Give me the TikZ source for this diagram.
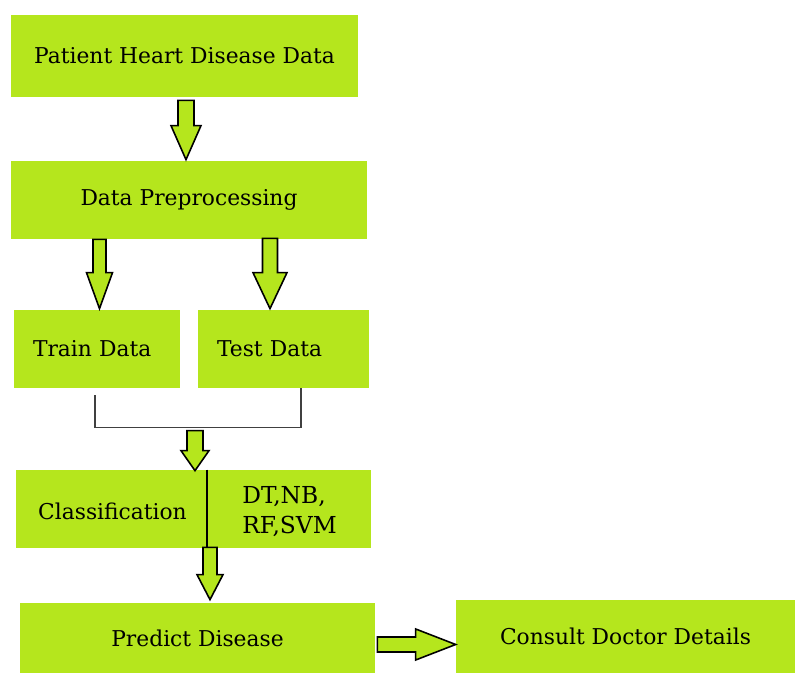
\documentclass[tikz,border=0pt]{standalone}
\usepackage{fontspec}
\setmainfont{DejaVu Serif}
\usetikzlibrary{calc}
\definecolor{limegreen}{RGB}{181,230,29}

\begin{document}
\begin{tikzpicture}[x=0.02cm, y=-0.02cm,
    every node/.style={font=\fontsize{12.4}{17}\selectfont},
    box/.style 2 args={fill=limegreen, inner sep=0pt, minimum width=#1cm, minimum height=#2cm},
    ba/.style={shift={(\p1)}, rotate=\n1},
    blockarrow/.style n args={3}{draw=black, fill=limegreen, line width=0.9pt,
      to path={let \p1=(\tikztostart), \p2=(\tikztotarget),
        \n1={atan2(\y2-\y1,\x2-\x1)}, \n2={veclen(\x2-\x1,\y2-\y1)} in
        ([ba]0pt,#1cm) -- ([ba]{\n2-#3cm},#1cm) -- ([ba]{\n2-#3cm},#2cm) -- (\p2)
        -- ([ba]{\n2-#3cm},-#2cm) -- ([ba]{\n2-#3cm},-#1cm) -- ([ba]0pt,-#1cm) -- cycle}}]
      \useasboundingbox (0,0) rectangle (796,675);
      \node[box={6.94}{1.64}] (data) at (184.5,56) {Patient Heart Disease Data};
      \node[box={7.12}{1.56}] (prep) at (189,200) {Data Preprocessing};
      \node[box={3.32}{1.56}, text width=2.56cm, inner xsep=0.38cm, align=left] (train) at (97,349) {Train Data};
      \node[box={3.42}{1.56}, text width=2.66cm, inner xsep=0.38cm, align=left] (test) at (283.5,349) {Test Data};
      \node[box={7.10}{1.56}] (cls) at (193.5,509) {};
      \node[anchor=base] (clsname) at (112.5,520) {Classification};
      \node[anchor=west, align=left, inner sep=0pt, font=\fontsize{13.3}{17}\selectfont] (clsalgo) at (242,512) {DT,NB,\\RF,SVM};
      \node[box={7.10}{1.40}] (predict) at (197.5,638) {Predict Disease};
      \node[box={6.78}{1.46}] (consult) at (625.5,636.5) {Consult Doctor Details};
      \draw[line width=0.8pt] ($(cls.north)+(13.5,0)$) -- ($(cls.south)+(13.5,0)$);
      \draw[line width=0.8pt, black!75] ($(train.south)+(-2,7)$) -- ++(0,32) -| ($(test.south)+(17.5,0)$);
      \draw[blockarrow={0.16}{0.30}{0.68}] ($(data.south)+(1.5,3)$) to ($(prep.north)+(-3,-1)$);
      \draw[blockarrow={0.13}{0.26}{0.72}] ($(prep.south)+(-89.5,0)$) to ($(train.north)+(2.5,-1)$);
      \draw[blockarrow={0.15}{0.34}{0.72}] ($(prep.south)+(81,-1)$) to ($(test.north)+(-13.5,-1)$);
      \draw[blockarrow={0.16}{0.28}{0.40}] ($(cls.north)+(1.5,-39)$) to ($(cls.north)+(1.5,1)$);
      \draw[blockarrow={0.14}{0.26}{0.50}] ($(cls.south)+(16.5,-1)$) to ($(predict.north)+(12.5,-3)$);
      \draw[blockarrow={0.15}{0.31}{0.80}] ($(predict.east)+(2,6.5)$) to ($(consult.west)+(0,8)$);
\end{tikzpicture}
\end{document}
